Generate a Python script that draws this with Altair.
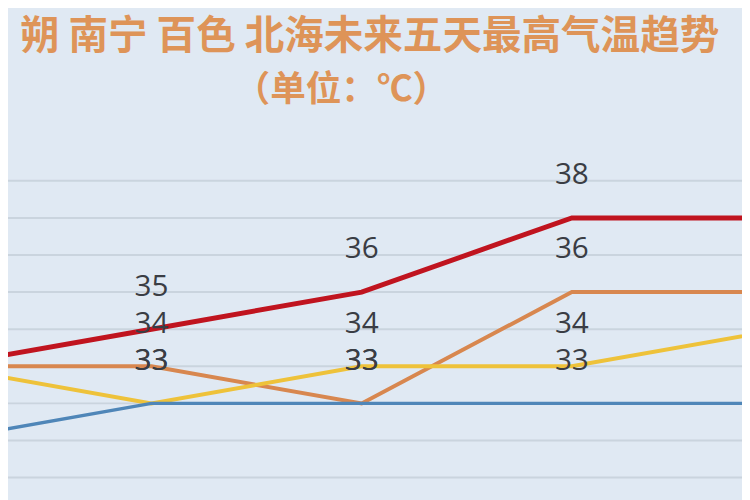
import altair as alt
import pandas as pd

days = [1, 2, 3, 4, 5]
series_names = ["A", "B", "C", "D"]
red_vals = [34, 35, 36, 38, 38]
orange_vals = [34, 34, 33, 36, 36]
yellow_vals = [34, 33, 34, 34, 35]
blue_vals = [32, 33, 33, 33, 33]
colors = ["#c0141f", "#d8874f", "#eec23a", "#4f86b8"]
widths = [5, 4, 4, 3.5]
grid_values = [31, 32, 33, 34, 35, 36, 37, 38, 39]
title1 = "朔 南宁 百色 北海未来五天最高气温趋势"
title2 = "（单位：℃）"

rows = []
for name, vals in zip(series_names, [red_vals, orange_vals, yellow_vals, blue_vals]):
    for d, v in zip(days, vals):
        rows.append({"day": d, "temp": v, "series": name, "label": str(v)})
df = pd.DataFrame(rows)
gdf = pd.DataFrame({"g": grid_values})

W, H = 742, 492
xscale = alt.Scale(domain=[1.3176, 4.8094], nice=False, zero=False)
yscale = alt.Scale(domain=[30.467, 43.587], nice=False, zero=False)

grid = alt.Chart(gdf).mark_rule(color="#cad4de", strokeWidth=2).encode(
    y=alt.Y("g:Q", scale=yscale, axis=None),
    x=alt.value(0), x2=alt.value(W))

lines = []
for name, col, w in zip(series_names, colors, widths):
    lines.append(
        alt.Chart(df[df.series == name]).mark_line(color=col, strokeWidth=w, clip=True)
        .encode(x=alt.X("day:Q", scale=xscale, axis=None),
                y=alt.Y("temp:Q", scale=yscale, axis=None))
    )

labels = alt.Chart(df).transform_filter(
    (alt.datum.day >= 2) & (alt.datum.day <= 4)
).mark_text(fontSize=30, font="Open Sans", color="#3a3d44",
            baseline="middle", align="center", dy=-43, clip=True).encode(
    x=alt.X("day:Q", scale=xscale, axis=None),
    y=alt.Y("temp:Q", scale=yscale, axis=None),
    text="label:N")

t1 = alt.Chart(pd.DataFrame({"t": [title1]})).mark_text(
    fontSize=40, font="Noto Sans CJK SC", fontWeight="bold", color="#de9458",
    align="right", baseline="middle").encode(
    x=alt.value(727 - 8), y=alt.value(35 - 8), text="t:N")
t2 = alt.Chart(pd.DataFrame({"t": [title2]})).mark_text(
    fontSize=36, font="Noto Sans CJK SC", fontWeight="bold", color="#de9458",
    align="center", baseline="middle").encode(
    x=alt.value(345 - 8), y=alt.value(88 - 8), text="t:N")

chart = alt.layer(grid, *lines, labels, t1, t2).properties(
    width=W, height=H, padding=0, autosize=alt.AutoSizeParams(type="none"),
    background="#e0e9f3"
).configure_view(stroke=None, fill="#e0e9f3")

chart.save("out.html", embed_options={"renderer": "svg", "actions": False})
